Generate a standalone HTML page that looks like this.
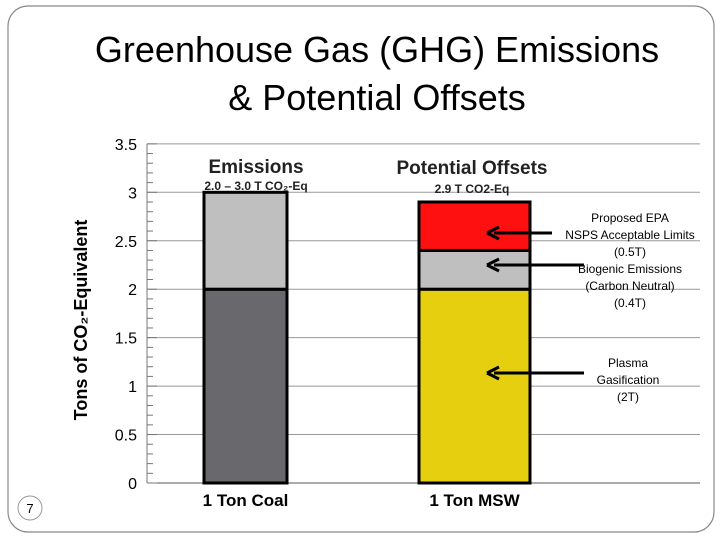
<!DOCTYPE html>
<html><head><meta charset="utf-8"><style>
body{margin:0;background:#fff;font-family:"Liberation Sans",sans-serif}
svg text{font-family:"Liberation Sans",sans-serif}
</style></head><body>
<svg width="720" height="540" viewBox="0 0 720 540">
<rect x="8" y="6" width="706" height="526" rx="20" fill="#fff" stroke="#888" stroke-width="1.2"/>
<text x="377" y="62" font-size="36" text-anchor="middle" fill="#000">Greenhouse Gas (GHG) Emissions</text>
<text x="377" y="110" font-size="36" text-anchor="middle" fill="#000">&amp; Potential Offsets</text>
<g id="chart"></g>
<g>
<circle cx="30" cy="508" r="12" fill="#fff" stroke="#999"/>
<text x="30" y="513" font-size="13" text-anchor="middle">7</text></g>
</svg>
<script>
const categories=["1 Ton Coal","1 Ton MSW"];
const seriesBase=[2.0,2.0];
const seriesMid=[1.0,0.4];
const seriesTop=[0,0.5];
const yTicks=[0,0.5,1,1.5,2,2.5,3,3.5];
const NS="http://www.w3.org/2000/svg";
const g=document.getElementById('chart');
const y=v=>483-v*96.9;
const barX=[204,419],barW=[83,111];
function el(t,a,txt){const e=document.createElementNS(NS,t);for(const k in a)e.setAttribute(k,a[k]);if(txt!==undefined)e.textContent=txt;g.appendChild(e);return e;}
yTicks.forEach(v=>{
 const l=el('line',{x1:147,x2:700,y1:y(v),y2:y(v),stroke:v===0?'#555':'#999','stroke-width':1});
 
 
 const t=el('text',{x:137,y:y(v)+6,'font-size':16,'text-anchor':'end'},String(v));
 
 
});
for(let i=0;i<=35;i++){const m=el('line',{x1:147,x2:i%5?153:157,y1:y(i/10),y2:y(i/10),stroke:'#777'});
 
 }
const ax=el('line',{x1:147,x2:147,y1:y(3.5),y2:y(0),stroke:'#777'});


const colsBase=['#69686d','#e6cf0e'],colsMid=['#bfbfbf','#bfbfbf'],colsTop=['#ff1010','#ff1010'];
categories.forEach((c,i)=>{
 let b=0;
 [[seriesBase,colsBase,'base'],[seriesMid,colsMid,'mid'],[seriesTop,colsTop,'top']].forEach(([s,cl,n])=>{
  const v=s[i];if(v<=0)return;
  const r=el('rect',{x:barX[i],y:y(b+v),width:barW[i],height:y(b)-y(b+v),fill:cl[i],stroke:'#000','stroke-width':3});
  
  
  b+=v;});
 const t=el('text',{x:barX[i]+barW[i]/2,y:506,'font-size':17,'font-weight':'bold','text-anchor':'middle'},c);
 
 
});
const yt=el('text',{x:87,y:320,'font-size':18,'font-weight':'bold','text-anchor':'middle',transform:'rotate(-90 87 320)'},'Tons of CO\u2082-Equivalent');


const h1=el('text',{x:256,y:173,'font-size':19,'font-weight':'bold','text-anchor':'middle',fill:'#222'},'Emissions');


const s1=el('text',{x:256,y:190,'font-size':12,'font-weight':'bold','text-anchor':'middle',fill:'#222'},'2.0 \u2013 3.0 T CO\u2082-Eq');


const h2=el('text',{x:472,y:174,'font-size':19,'font-weight':'bold','text-anchor':'middle',fill:'#222'},'Potential Offsets');


const s2=el('text',{x:472,y:193,'font-size':12,'font-weight':'bold','text-anchor':'middle',fill:'#222'},'2.9 T CO2-Eq');


const anns=[[233,['Proposed EPA','NSPS Acceptable Limits','(0.5T)'],222,630],[265,['Biogenic Emissions','(Carbon Neutral)','(0.4T)'],273,630],[373,['Plasma','Gasification','(2T)'],367,628]];
anns.forEach(([ay,lines,ty,tx])=>{
 const l=el('line',{x1:ay===233?552:584,x2:494,y1:ay,y2:ay,stroke:'#000','stroke-width':3});
 
 
 const p=el('path',{d:`M487 ${ay} L499 ${ay-6} M487 ${ay} L499 ${ay+6}`,stroke:'#000','stroke-width':3,fill:'none'});
 
 
 lines.forEach((s,k)=>{const t=el('text',{x:tx,y:ty+k*17,'font-size':12,'text-anchor':'middle'},s);
  
  });
});
</script>
</body></html>
